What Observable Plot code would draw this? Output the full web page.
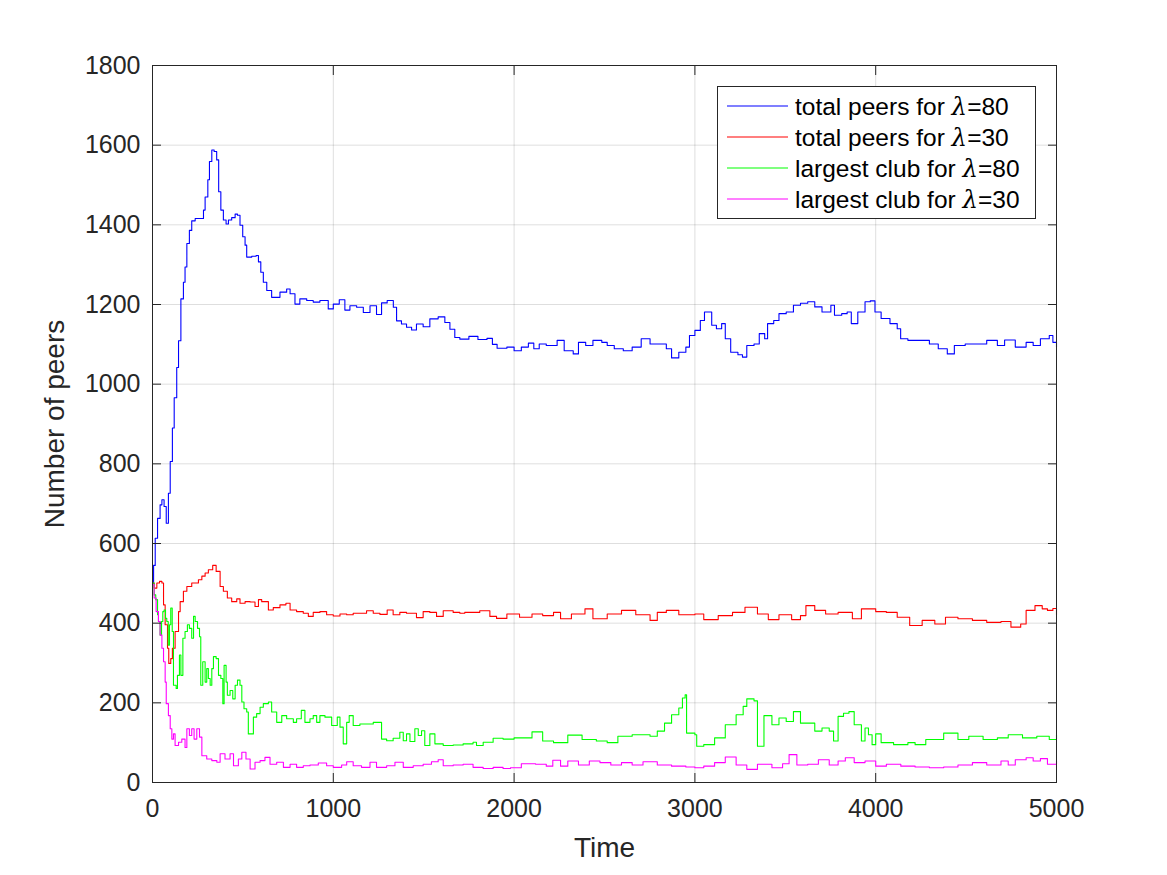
<!DOCTYPE html>
<html><head><meta charset="utf-8">
<script src="https://cdn.jsdelivr.net/npm/d3@7"></script>
<script src="https://cdn.jsdelivr.net/npm/@observablehq/plot@0.6"></script>
<style>
body{margin:0;background:#fff;}
svg{font-family:"Liberation Sans",Arial,Helvetica,sans-serif;}
</style>
</head><body><div id="chart"></div><script>
// ---- data ----
const seriesNames = ["total peers for λ=80","total peers for λ=30","largest club for λ=80","largest club for λ=30"];
const seriesLambda = ["80","30","80","30"];
const seriesLabelStart = ["total peers for ","total peers for ","largest club for ","largest club for "];
const seriesColors = ["#0000ff","#ff0000","#00ff00","#ff00ff"];

const timeTotal80 = [0,6,15,28,42,52,64,76,88,98,110,120,134,144,157,171,180,190,204,217,236,273,282,291,306,315,328,341,355,366,378,392,407,420,438,457,470,484,499,512,521,549,573,586,599,613,632,659,678,705,742,761,788,815,853,889,926,972,1000,1033,1064,1092,1129,1166,1203,1239,1267,1298,1332,1350,1377,1405,1433,1460,1497,1534,1580,1617,1645,1672,1700,1750,1800,1850,1880,1906,1960,2000,2040,2079,2109,2139,2178,2238,2277,2327,2356,2396,2436,2485,2515,2554,2604,2653,2703,2752,2802,2842,2871,2911,2950,2970,3000,3030,3053,3079,3093,3119,3148,3168,3198,3238,3263,3287,3327,3356,3386,3402,3436,3465,3505,3545,3584,3624,3663,3703,3752,3772,3812,3842,3865,3901,3941,3970,3996,4030,4079,4119,4138,4178,4237,4297,4346,4396,4435,4495,4554,4614,4673,4713,4772,4832,4871,4911,4960,4980,5000];
const peersTotal80 = [500,545,613,663,697,710,693,651,726,806,890,966,1042,1109,1214,1256,1294,1353,1386,1410,1416,1416,1437,1470,1513,1559,1588,1584,1563,1483,1437,1412,1402,1412,1418,1427,1424,1399,1370,1349,1319,1321,1323,1307,1281,1256,1235,1218,1218,1231,1239,1227,1201,1214,1210,1206,1210,1189,1201,1212,1186,1197,1193,1180,1197,1175,1204,1210,1193,1159,1151,1143,1136,1151,1144,1164,1169,1155,1138,1117,1113,1120,1112,1115,1100,1090,1093,1084,1093,1103,1089,1101,1097,1110,1084,1076,1105,1097,1110,1105,1097,1089,1084,1093,1114,1101,1101,1089,1066,1080,1093,1122,1135,1160,1181,1181,1148,1139,1152,1114,1080,1074,1068,1097,1101,1127,1114,1152,1160,1177,1181,1198,1203,1207,1194,1181,1198,1173,1177,1181,1152,1181,1207,1209,1181,1165,1152,1139,1114,1110,1110,1101,1089,1076,1097,1101,1101,1110,1097,1111,1093,1105,1097,1114,1122,1105,1093];

const timeTotal30 = [0,9,24,39,52,61,70,83,90,101,110,125,144,153,171,190,217,236,254,273,291,309,333,352,374,392,414,438,466,484,512,540,567,586,604,641,668,705,738,761,797,834,862,889,926,963,1000,1037,1074,1110,1147,1184,1221,1258,1298,1331,1368,1405,1460,1497,1534,1571,1608,1663,1700,1727,1810,1866,1903,1960,2030,2099,2158,2218,2257,2317,2392,2436,2515,2594,2673,2752,2792,2842,2911,3000,3049,3129,3208,3277,3346,3406,3465,3535,3584,3614,3663,3723,3792,3871,3921,4000,4059,4119,4188,4257,4327,4386,4455,4535,4614,4693,4748,4802,4832,4881,4921,4950,4980,5000];
const peersTotal30 = [501,488,501,505,501,446,396,337,299,311,337,379,429,454,480,492,501,501,509,518,526,534,545,530,492,480,463,454,461,450,454,453,442,459,454,433,439,446,450,433,429,425,417,427,429,421,418,423,421,425,425,431,425,422,433,421,427,425,414,429,427,417,431,427,425,427,431,417,412,423,415,423,419,427,411,423,436,411,423,432,421,407,427,432,421,423,409,419,427,440,423,409,421,409,419,444,432,423,427,411,436,429,427,415,394,407,398,415,411,407,402,404,390,398,432,444,436,432,437,421];

const timeClub80 = [0,9,18,28,33,42,50,57,64,72,79,87,94,101,109,116,131,138,149,157,168,180,193,204,217,227,236,249,260,267,278,291,300,309,319,328,337,352,365,378,389,396,407,414,429,444,457,470,484,494,506,521,530,549,558,576,595,613,641,659,687,715,742,779,797,823,843,871,889,908,926,954,991,1022,1037,1055,1074,1088,1110,1147,1184,1221,1243,1267,1295,1331,1368,1387,1405,1424,1451,1470,1488,1506,1534,1562,1608,1663,1718,1773,1792,1829,1884,1939,2000,2099,2158,2218,2297,2376,2455,2515,2574,2653,2752,2792,2832,2871,2911,2931,2946,2954,3000,3010,3049,3109,3168,3228,3267,3287,3327,3346,3370,3382,3426,3465,3505,3545,3584,3624,3663,3703,3743,3767,3792,3822,3852,3881,3921,3941,3960,3980,4000,4030,4099,4178,4218,4277,4376,4455,4515,4594,4673,4733,4812,4891,4960,5000];
const peersClub80 = [501,471,459,421,404,370,404,429,433,412,404,345,396,438,379,244,236,269,320,269,362,379,396,387,362,417,404,387,366,244,303,252,286,261,244,286,316,311,269,261,198,294,252,219,231,210,244,257,244,202,185,177,122,122,164,173,189,198,202,177,151,168,160,151,160,181,151,160,168,151,168,164,143,164,139,97,151,168,143,147,147,151,151,109,105,111,126,105,122,103,135,118,130,93,122,97,93,94,97,101,93,101,111,109,112,127,104,100,119,108,104,100,116,120,116,129,149,170,187,212,220,124,120,91,95,112,145,170,191,210,205,91,91,168,145,162,153,178,149,149,129,137,129,104,166,174,178,145,104,137,120,95,122,100,95,100,95,108,124,108,116,108,112,120,112,116,108,119];

const timeClub30 = [0,9,20,33,42,52,61,70,76,88,98,107,116,125,144,162,180,190,204,217,230,245,260,273,300,328,356,374,401,429,448,475,494,517,540,567,595,622,650,687,724,761,797,834,871,917,963,1000,1046,1074,1110,1156,1203,1239,1295,1341,1387,1442,1497,1543,1580,1608,1663,1718,1773,1829,1884,1939,1980,2040,2119,2178,2214,2257,2297,2356,2416,2475,2535,2594,2653,2713,2792,2871,2950,3000,3049,3109,3168,3228,3287,3346,3426,3485,3521,3564,3624,3683,3743,3792,3832,3881,3941,4000,4059,4139,4218,4297,4376,4455,4535,4614,4693,4733,4772,4832,4871,4911,4950,5000];
const peersClub30 = [497,463,429,404,370,337,303,252,198,168,135,109,122,93,101,109,88,135,118,135,109,135,114,67,59,55,51,72,59,72,42,59,76,59,34,51,55,63,46,51,38,46,38,42,44,49,42,38,44,52,42,38,51,38,42,51,38,42,46,52,57,42,44,46,38,35,38,35,37,47,46,41,56,41,54,44,54,50,44,50,44,52,44,41,39,37,41,50,64,44,33,46,37,47,70,44,46,57,44,54,62,50,54,41,46,41,39,37,39,44,50,44,54,44,57,62,54,60,46,54];

const xTicks = [0,1000,2000,3000,4000,5000];
const yTicks = [0,200,400,600,800,1000,1200,1400,1600,1800];

// ---- build table ----
const seriesTimes = [timeTotal80, timeTotal30, timeClub80, timeClub30];
const seriesValues = [peersTotal80, peersTotal30, peersClub80, peersClub30];
const rows = [];
seriesNames.forEach((name, i) => {
  seriesTimes[i].forEach((t, j) => rows.push({series: name, time: t, peers: seriesValues[i][j]}));
});

const ink = "#262626";
const fmt = d3.format("d");
const chart = Plot.plot({
  width: 1167, height: 875,
  marginLeft: 152, marginRight: 111, marginTop: 65, marginBottom: 93,
  style: {background: "#fff", color: ink, fontFamily: "Liberation Sans, Arial, Helvetica, sans-serif"},
  x: {domain: [0, 5000]},
  y: {domain: [0, 1800]},
  color: {domain: seriesNames, range: seriesColors},
  marks: [
    Plot.gridX(xTicks, {stroke: "#000", strokeOpacity: 0.13}),
    Plot.gridY(yTicks, {stroke: "#000", strokeOpacity: 0.13}),
    Plot.line(rows, {x: "time", y: "peers", z: "series", stroke: "series", strokeWidth: 1.1, curve: "step-after"}),
    Plot.axisX(xTicks, {anchor: "bottom", tickSize: -9, tickPadding: 26, fontSize: 25, tickFormat: fmt, label: null, stroke: ink}),
    Plot.axisX(xTicks, {anchor: "top", tickSize: -9, tickFormat: () => "", label: null, stroke: ink}),
    Plot.axisY(yTicks, {anchor: "left", tickSize: -9, tickPadding: 21, fontSize: 25, tickFormat: fmt, label: null, stroke: ink}),
    Plot.axisY(yTicks, {anchor: "right", tickSize: -9, tickFormat: () => "", label: null, stroke: ink}),
    Plot.frame({stroke: ink, strokeWidth: 1}),
    Plot.text(["Time"], {frameAnchor: "bottom", lineAnchor: "middle", textAnchor: "middle", dy: 66, fontSize: 28, fill: ink}),
    Plot.text(["Number of peers"], {frameAnchor: "left", rotate: -90, textAnchor: "middle", lineAnchor: "middle", dx: -97, fontSize: 28, fill: ink})
  ]
});
document.getElementById("chart").appendChild(chart);

// ---- legend inside the axes (top right) ----
const svg = d3.select(chart.tagName.toLowerCase() === "svg" ? chart : chart.querySelector("svg"));
const lg = svg.append("g").attr("class", "legend").attr("text-anchor", "start");
lg.append("rect").attr("x", 717.5).attr("y", 86.5).attr("width", 318).attr("height", 132)
  .attr("fill", "#fff").attr("stroke", ink).attr("stroke-width", 1);
seriesNames.forEach((name, i) => {
  const y = 106 + i * 31;
  lg.append("line").attr("x1", 727).attr("x2", 788).attr("y1", y).attr("y2", y)
    .attr("stroke", seriesColors[i]).attr("stroke-width", 1.1);
  const tx = lg.append("text").attr("x", 795).attr("y", y).attr("dy", "0.35em")
    .attr("text-anchor", "start").attr("font-size", 24.5).attr("fill", "#000");
  tx.append("tspan").text(seriesLabelStart[i]);
  tx.append("tspan").attr("font-style", "italic").attr("font-family", "DejaVu Serif, serif").text("λ");
  tx.append("tspan").text("=" + seriesLambda[i]);
});
</script></body></html>
